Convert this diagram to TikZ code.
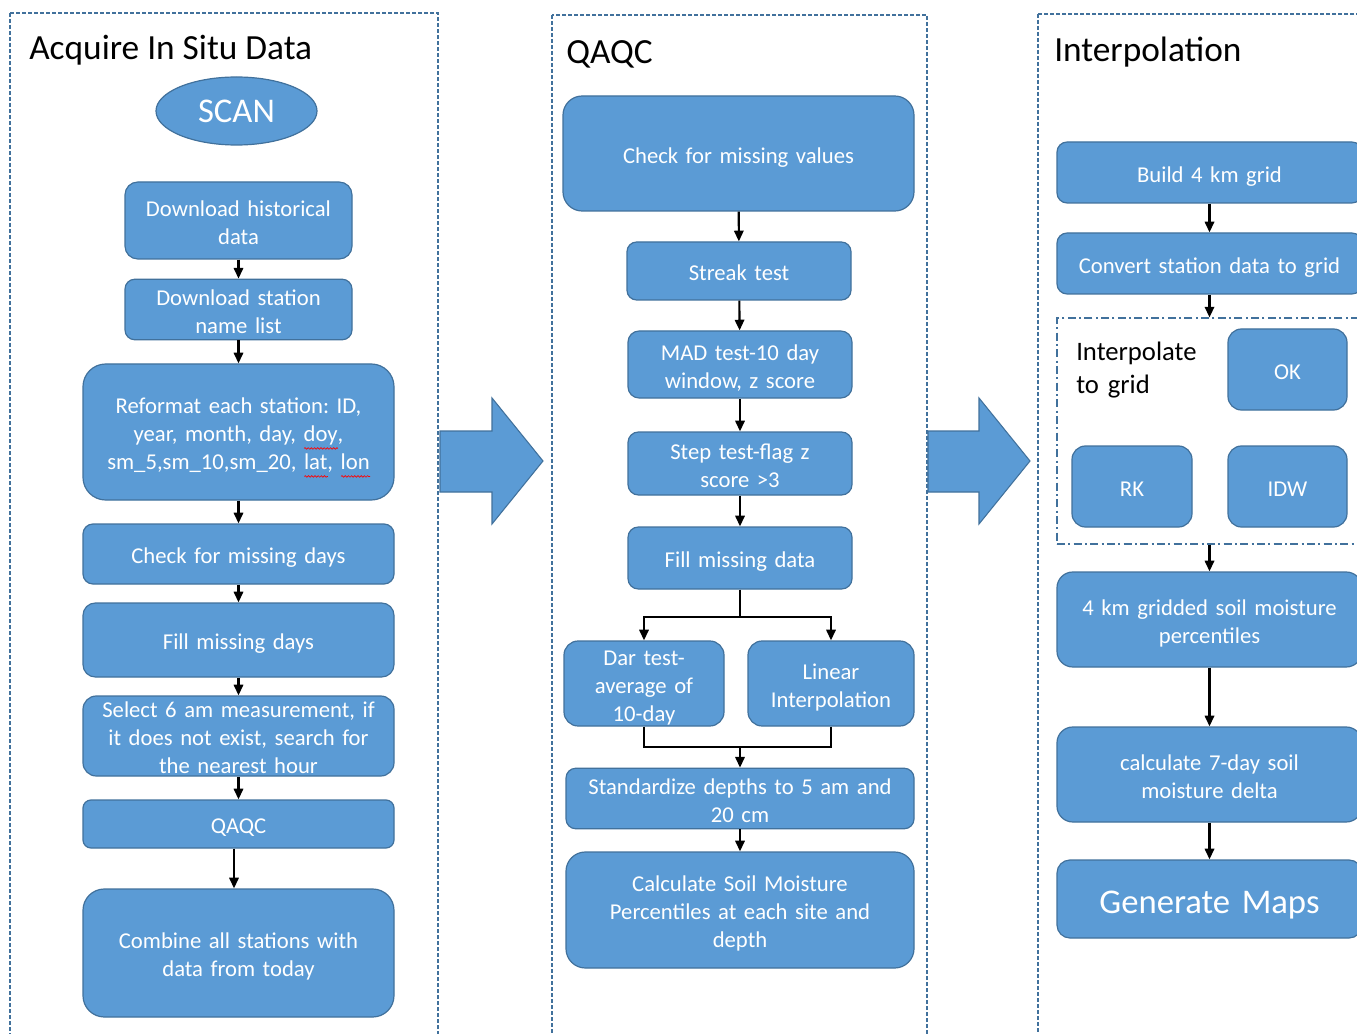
\documentclass[tikz,border=0pt]{standalone}
\usepackage{fontspec}
\setmainfont{Carlito}
\usetikzlibrary{arrows.meta,shapes.geometric,decorations.pathmorphing}
\definecolor{fillb}{HTML}{5B9BD5}
\definecolor{edgeb}{HTML}{41719C}
\frenchspacing
\newsavebox\rwbox
\newlength\rwlen
\newcommand\redwave[1]{\sbox\rwbox{#1}\setlength\rwlen{\wd\rwbox}\leavevmode\rlap{\raisebox{-5pt}[0pt][0pt]{\tikz[baseline=0pt,sharp corners]\draw[red,sharp corners,line width=0.5pt,decorate,decoration={snake,amplitude=0.6pt,segment length=2.4pt}] (0pt,0pt) -- (\rwlen,0pt);}}\usebox\rwbox}
\tikzset{
  box/.style={draw=edgeb, fill=fillb, line width=0.9pt, text=white, align=center,
    font=\fontsize{17}{21}\selectfont\frenchspacing, inner sep=0pt},
  arr/.style={-{Triangle[length=8pt,width=7pt]}, line width=1.6pt, draw=black},
  ln/.style={line width=1.6pt, draw=black},
  panel/.style={draw=edgeb, line width=0.8pt, dash pattern=on 3pt off 1.5pt},
  dashdotbox/.style={draw=edgeb, line width=0.8pt, dash pattern=on 6pt off 2.5pt on 1.5pt off 2.5pt},
  bigarrow/.style={fill=fillb, draw=edgeb, line width=0.8pt},
  title/.style={anchor=base west, inner sep=0pt, font=\fontsize{26.5}{31}\selectfont, text=black},
}
\newcommand\bx[7][]{%
  \pgfmathsetmacro\bw{(#5-#3)*0.75}%
  \pgfmathsetmacro\bh{(#6-#4)*0.75}%
  \pgfmathsetmacro\br{min(\bw,\bh)/6}%
  \pgfmathsetmacro\tw{\bw-10}%
  \node[box, minimum width=\bw pt, minimum height=\bh pt, rounded corners=\br pt,
        text width=\tw pt, #1] (#2) at ({(#3+#5)/2},{(#4+#6)/2})
        {\rule{0pt}{1.15em}#7\rule[-0.285em]{0pt}{0.285em}};}
\begin{document}
\begin{tikzpicture}[x=0.75pt,y=-0.75pt]
\useasboundingbox (0,0) rectangle (1357,1034);
\clip (0,0) rectangle (1357,1034);
\fill[white] (0,0) rectangle (1357,1034);

% panels
\draw[panel] (10,13) rectangle (438,1060);
\draw[panel] (552,15) rectangle (927,1060);
\draw[panel] (1038,14) rectangle (1380,1060);

% big arrows
\draw[bigarrow] (440,431) -- (492,431) -- (492,398) -- (543,461) -- (492,524) -- (492,492) -- (440,492) -- cycle;
\draw[bigarrow] (928,431) -- (979,431) -- (979,398) -- (1030,461) -- (979,524) -- (979,492) -- (928,492) -- cycle;

% titles
\node[title] (t1) at (29,60) {Acquire In Situ Data};
\node[title] (t2) at (566,64) {QAQC};
\node[title] (t3) at (1054,62) {Interpolation};

% left column
\node[ellipse, draw=edgeb, fill=fillb, line width=0.9pt, text=white,
      minimum width=120.75pt, minimum height=51pt, inner sep=0pt,
      font=\fontsize{26}{31}\selectfont] (scan) at (236.5,111) {SCAN};
\bx{hist}{125}{182}{352}{259}{Download historical\\data}
\bx{stn}{125}{280}{352}{339}{Download station\\name list}
\bx{ref}{83}{364}{394}{500}{Reformat each station: ID,\\year, month, day, \redwave{doy},\\sm\_5,sm\_10,sm\_20, \redwave{lat}, \redwave{lon}}
\bx{cmd}{83}{524}{394}{584}{Check for missing days}
\bx{fmdays}{83}{603}{394}{677}{Fill missing days}
\bx[inner ysep=-5pt]{sel}{83}{696}{394}{776}{Select 6 am measurement, if\\it does not exist, search for\\the nearest hour}
\bx{qaqc}{83}{800}{394}{848}{QAQC}
\bx{comb}{83}{889}{394}{1017}{Combine all stations with\\data from today}

\draw[arr] (hist) -- (stn);
\draw[arr] (stn) -- (ref);
\draw[arr] (ref) -- (cmd);
\draw[arr] (cmd) -- (fmdays);
\draw[arr] (fmdays) -- (sel);
\draw[arr] (sel) -- (qaqc);
\coordinate (qx) at (234,0);
\draw[arr] (qaqc.south -| qx) -- (comb.north -| qx);

% middle column
\bx{cmv}{563}{96}{914}{211}{Check for missing values}
\bx{streak}{627}{242}{851}{300}{Streak test}
\bx{mad}{628}{331}{852}{398}{MAD test-10 day\\window, z score}
\bx{step}{628}{432}{852}{495}{Step test-flag z\\score {>}3}
\bx{fmdata}{628}{527}{852}{589}{Fill missing data}
\bx[inner ysep=-5pt]{dar}{564}{641}{724}{726}{Dar test-\\average of\\10-day}
\bx{lin}{748}{641}{914}{726}{Linear\\Interpolation}
\bx{std}{566}{769}{914}{828}{Standardize depths to 5 am and\\20 cm}
\bx{csm}{566}{852}{914}{968}{Calculate Soil Moisture\\Percentiles at each site and\\depth}

\draw[arr] (cmv) -- (streak);
\draw[arr] (streak) -- (mad);
\draw[arr] (mad) -- (step);
\draw[arr] (step) -- (fmdata);
\coordinate (j1) at (740,617);
\coordinate (j2) at (740,747);
\draw[ln] (fmdata.south) -- (j1);
\draw[arr] (j1) -| (dar.north);
\draw[arr] (j1) -| (lin.north);
\draw[ln] (dar.south) |- (j2);
\draw[ln] (lin.south) |- (j2);
\draw[arr] (j2) -- (std.north);
\draw[arr] (std) -- (csm);

% right column
\bx{build}{1057}{142}{1362}{203}{Build 4 km grid}
\bx{conv}{1057}{233}{1362}{294}{Convert station data to grid}
\node[dashdotbox, minimum width=234.75pt, minimum height=169.5pt, inner sep=0pt] (igrid) at (1213.5,431) {};
\node[anchor=base west, inner sep=0pt, align=left, text width=110pt,
      font=\fontsize{20}{24.75}\selectfont] (itg) at (1076,360) {Interpolate\\to grid};
\bx{ok}{1228}{329}{1347}{410}{OK}
\bx{rk}{1072}{446}{1192}{527}{RK}
\bx{idw}{1228}{446}{1347}{527}{IDW}
\bx{grid4}{1057}{572}{1362}{667}{4 km gridded soil moisture\\percentiles}
\bx{delta}{1057}{727}{1362}{822}{calculate 7-day soil\\moisture delta}
\bx[font=\fontsize{26}{31}\selectfont]{maps}{1057}{860}{1362}{938}{Generate Maps}

\draw[arr] (build) -- (conv);
\draw[arr] (conv.south) -- (igrid.north -| conv.south);
\draw[arr] (igrid.south -| grid4.north) -- (grid4.north);
\draw[arr] (grid4) -- (delta);
\draw[arr] (delta) -- (maps);
\end{tikzpicture}
\end{document}
